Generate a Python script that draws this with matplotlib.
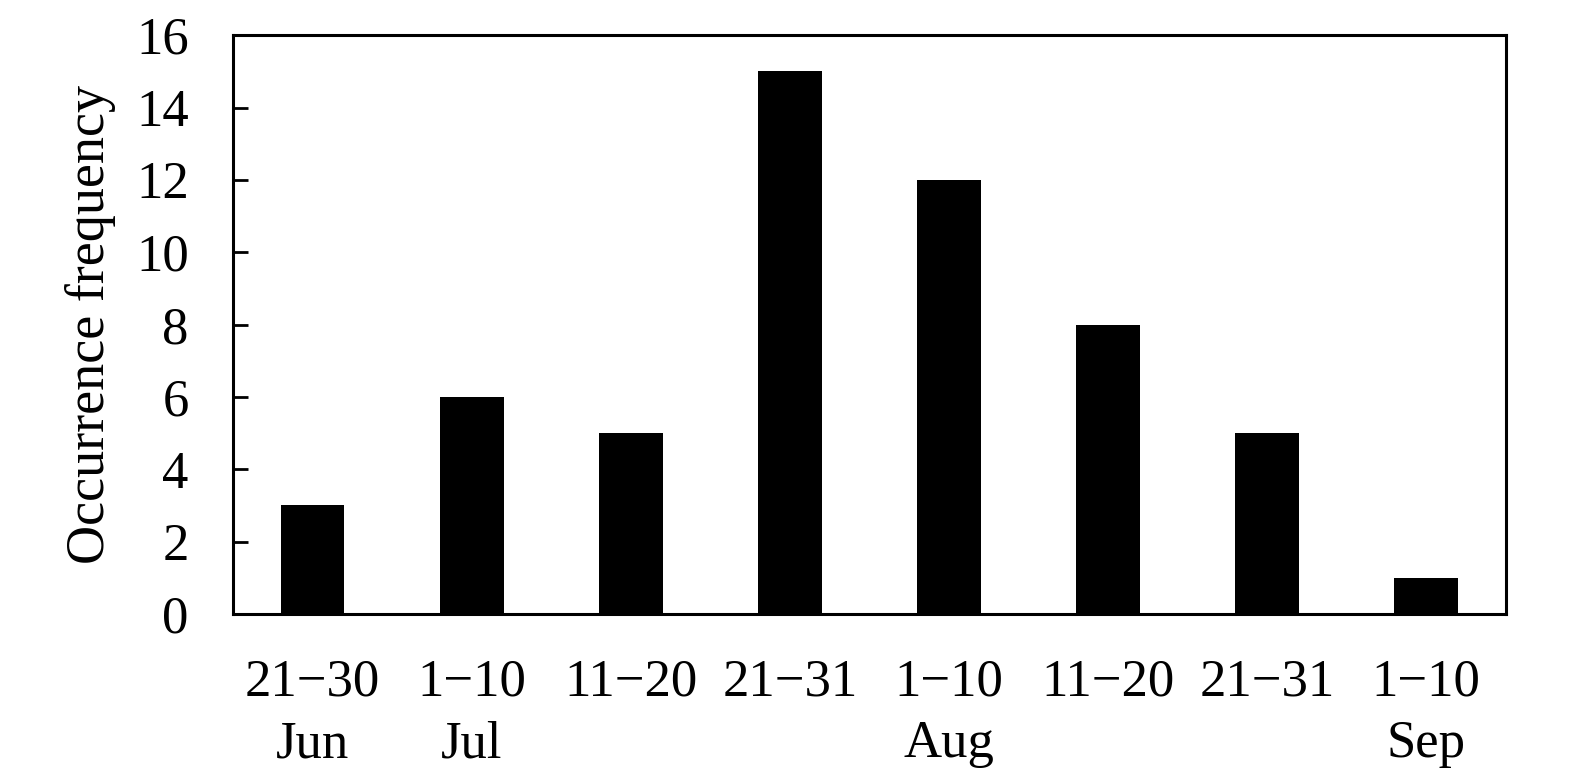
import numpy as np
import matplotlib.pyplot as plt

plt.rcParams['font.family'] = ['Liberation Serif', 'DejaVu Serif']

# ten-day periods and counts
periods = ['21\u221230\nJun', '1\u221210\nJul', '11\u221220', '21\u221231',
           '1\u221210\nAug', '11\u221220', '21\u221231', '1\u221210\nSep']
counts = [3, 6, 5, 15, 12, 8, 5, 1]

fig = plt.figure(figsize=(15.75, 7.82), dpi=100)
ax = fig.add_axes([0.148, 0.215, 0.808, 0.740])

x = np.arange(len(counts))
ax.bar(x, counts, width=0.4, color='black')

ax.set_xlim(-0.5, len(counts) - 0.5)
ax.set_ylim(0, 16)
ax.set_yticks(range(0, 17, 2))
ax.set_xticks(x)
ax.set_xticklabels(periods, fontsize=38, linespacing=1.38)
ax.tick_params(axis='x', length=0, pad=32)
ax.tick_params(axis='y', direction='in', length=11, width=2, labelsize=38, pad=32)
ax.set_ylabel('Occurrence frequency', fontsize=39, labelpad=14)

for s in ax.spines.values():
    s.set_linewidth(2.2)

fig.savefig('out.png', dpi=100)
